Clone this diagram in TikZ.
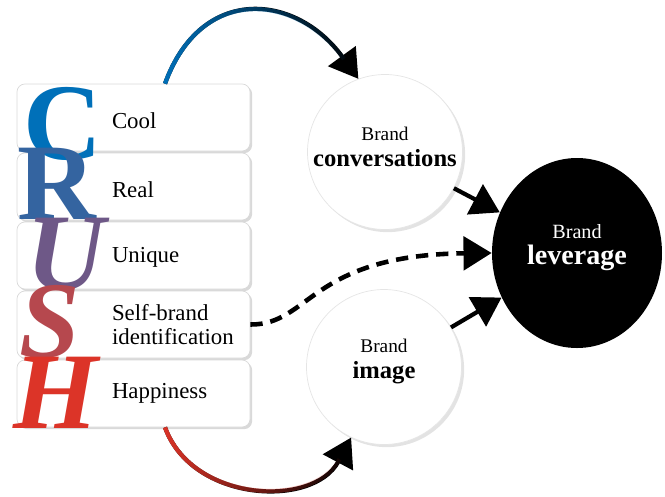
\documentclass[tikz,border=0pt]{standalone}
\usepackage{fontspec}
\setmainfont{Liberation Serif}
\usetikzlibrary{positioning,arrows.meta,shadows,fadings,shapes.geometric}
\definecolor{crushC}{RGB}{0,112,185}
\definecolor{crushR}{RGB}{52,100,160}
\definecolor{crushU}{RGB}{110,88,135}
\definecolor{crushS}{RGB}{182,72,78}
\definecolor{crushH}{RGB}{220,52,40}
\tikzset{
  crushbox/.style={draw=black!15, fill=white, rounded corners=4.5pt,
    minimum width=4.66cm, minimum height=1.34cm,
    drop shadow={shadow xshift=1.2pt, shadow yshift=-1.2pt, opacity=0.3}},
  boxtext/.style={anchor=west, align=left, inner sep=0pt,
    font=\fontsize{13}{14}\selectfont},
  crushletter/.style={anchor=base west, inner sep=0pt,
    font=\fontsize{62}{62}\selectfont\bfseries},
  brandcircle/.style={circle, draw=black!10, fill=white, minimum size=3.1cm,
    drop shadow={shadow xshift=1.5pt, shadow yshift=-1.5pt, opacity=0.22}},
  bigarrow/.style={->, line width=2.4pt}
}
\tikzfading[name=crushfade, left color=transparent!0, right color=transparent!100]

\begin{document}
\begin{tikzpicture}[>={Triangle[length=16pt,width=19pt]}, node distance=1.38cm, on grid]
  \useasboundingbox (0,0) rectangle (13.3,-9.92);

  % CRUSH boxes
  \node[crushbox] (cool)  at (2.67,-2.35) {};
  \node[crushbox] (real)  [below=of cool]  {};
  \node[crushbox] (uniq)  [below=of real]  {};
  \node[crushbox] (self)  [below=of uniq]  {};
  \node[crushbox] (happy) [below=of self]  {};

  \node[boxtext] at ([xshift=1.9cm,yshift=-2pt]cool.west)  {Cool};
  \node[boxtext] at ([xshift=1.9cm,yshift=-2pt]real.west)  {Real};
  \node[boxtext] at ([xshift=1.9cm,yshift=-1pt]uniq.west)  {Unique};
  \node[boxtext] at ([xshift=1.9cm]self.west)  {Self-brand\\identification};
  \node[boxtext] at ([xshift=1.9cm]happy.west) {Happiness};

  % the big letters
  \node[crushletter, text=crushC] at (0.46,-3.18) {C};
  \node[crushletter, text=crushR] at (0.34,-4.38) {R};
  \node[crushletter, text=crushU, font=\fontsize{62}{62}\selectfont\bfseries\itshape] at (0.52,-5.78) {U};
  \node[crushletter, text=crushS, font=\fontsize{62}{62}\selectfont\bfseries\itshape] at (0.38,-7.14) {S};
  \node[crushletter, text=crushH, font=\fontsize{62}{62}\selectfont\bfseries\itshape] at (0.26,-8.56) {H};

  % circles
  \node[brandcircle] (conv) at (7.70,-3.04)
    [label={[align=center, yshift=3pt]center:{\fontsize{11}{13}\selectfont Brand}\\[3pt]{\fontsize{14}{16}\selectfont\bfseries conversations}}] {};
  \node[brandcircle] (img) at (7.68,-7.34)
    [label={[align=center, yshift=3pt]center:{\fontsize{11}{13}\selectfont Brand}\\[3pt]{\fontsize{14}{16}\selectfont\bfseries image}}] {};
  \node[ellipse, fill=black, minimum width=3.4cm, minimum height=3.8cm] (lev) at (11.54,-5.06)
    [label={[align=center, text=white, yshift=3pt]center:{\fontsize{11.5}{13}\selectfont Brand}\\[3pt]{\fontsize{16}{18}\selectfont\bfseries leverage}}] {};

  % connectors
  \coordinate (coolout)  at ([xshift=0.63cm]cool.north);
  \coordinate (happyout) at ([xshift=0.63cm]happy.south);

  \draw[bigarrow] (coolout) to[out=70, in=126, looseness=1.4] (conv.110);
  \draw[crushC, line width=2.4pt, path fading=crushfade, shorten >=14pt]
    (coolout) to[out=70, in=126, looseness=1.4] (conv.110);

  \draw[bigarrow] (happyout) to[out=-70, in=-118, looseness=1.1] (img.245);
  \draw[crushH, line width=2.4pt, path fading=crushfade, shorten >=14pt]
    (happyout) to[out=-70, in=-118, looseness=1.1] (img.245);

  \draw[bigarrow] (conv) -- (lev);
  \draw[bigarrow] (img) -- (lev);
  \draw[->, line width=2.6pt, dash pattern=on 7pt off 4.5pt]
    (self.east) .. controls (6.2,-6.5) and (6.2,-5.1) .. (lev.west);
\end{tikzpicture}
\end{document}
